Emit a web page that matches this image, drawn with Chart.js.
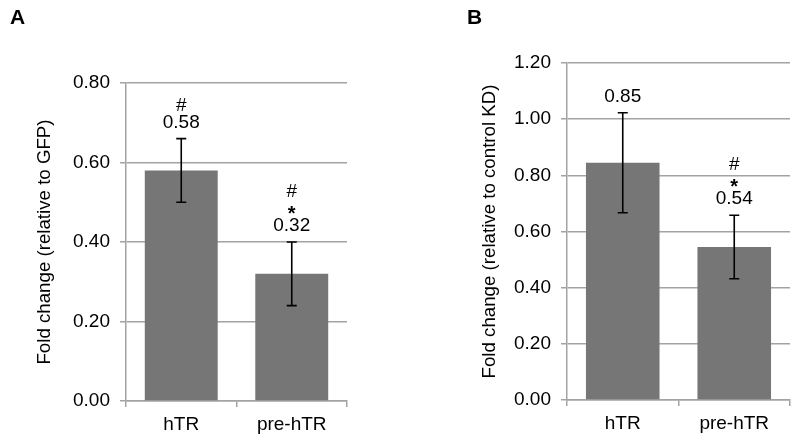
<!DOCTYPE html>
<html>
<head>
<meta charset="utf-8">
<script src="https://cdn.jsdelivr.net/npm/chart.js@4.4.0/dist/chart.umd.min.js"></script>
<style>
  html, body { margin: 0; padding: 0; background: #fff; }
  #wrap { position: relative; width: 800px; height: 443px; }
  .panel { position: absolute; top: 0; width: 400px; height: 443px; }
</style>
</head>
<body>
<div id="wrap">
  <div class="panel" style="left:0"><canvas id="chartA" width="400" height="443"></canvas></div>
  <div class="panel" style="left:400px"><canvas id="chartB" width="400" height="443"></canvas></div>
</div>
<script>
const categories = ['hTR', 'pre-hTR']

// panel A
const valuesA = [0.58, 0.32]
const errorsA = [0.08, 0.08]
const notesA = [['#', '0.58'], ['#', '*', '0.32']]
const ticksA = [0, 0.2, 0.4, 0.6, 0.8]

// panel B
const valuesB = [0.845, 0.545]
const errorsB = [0.178, 0.113]
const notesB = [['0.85'], ['#', '*', '0.54']]
const ticksB = [0, 0.2, 0.4, 0.6, 0.8, 1.0, 1.2]

const FONT = "'Liberation Sans', Arial, sans-serif"
const gridColor = '#a3a3a3'
const barColor = '#767676'

// error bars, the marks above them, and the panel letter
const extras = {
  id: 'extras',
  afterDatasetsDraw(chart, args, opts) {
    const ctx = chart.ctx
    const y = chart.scales.y
    const meta = chart.getDatasetMeta(0)
    ctx.save()
    meta.data.forEach((bar, i) => {
      const v = opts.values[i], e = opts.errors[i]
      const top = y.getPixelForValue(v + e)
      const bottom = y.getPixelForValue(v - e)
      ctx.strokeStyle = '#000'
      ctx.lineWidth = 1.6
      ctx.beginPath()
      ctx.moveTo(bar.x, top); ctx.lineTo(bar.x, bottom)
      ctx.moveTo(bar.x - 5, top); ctx.lineTo(bar.x + 5, top)
      ctx.moveTo(bar.x - 5, bottom); ctx.lineTo(bar.x + 5, bottom)
      ctx.stroke()

      ctx.fillStyle = '#000'
      ctx.textAlign = 'center'
      ctx.textBaseline = 'middle'
      const lines = opts.notes[i]
      let ty = top - 16
      for (let k = lines.length - 1; k >= 0; k--) {
        if (lines[k] === '*') {
          ctx.font = 'bold 20px ' + FONT
          ctx.fillText(lines[k], bar.x, ty + 5)
        } else {
          ctx.font = '19px ' + FONT
          ctx.fillText(lines[k], bar.x, ty)
        }
        ty -= 17
      }
    })
    ctx.font = 'bold 21px ' + FONT
    ctx.textAlign = 'left'
    ctx.textBaseline = 'alphabetic'
    ctx.fillText(opts.letter, opts.letterX, 24)
    ctx.restore()
  }
}

function makeChart(id, cfg) {
  return new Chart(document.getElementById(id), {
    type: 'bar',
    data: {
      labels: categories,
      datasets: [{
        data: cfg.values,
        backgroundColor: barColor,
        barPercentage: 0.66,
        categoryPercentage: 1
      }]
    },
    options: {
      responsive: false,
      animation: false,
      layout: { padding: { top: cfg.top, right: cfg.right, left: 0, bottom: 0 } },
      plugins: {
        legend: { display: false },
        tooltip: { enabled: false },
        extras: { values: cfg.values, errors: cfg.errors, notes: cfg.notes, letter: cfg.letter, letterX: cfg.letterX }
      },
      scales: {
        x: {
          grid: { display: true, drawOnChartArea: false, drawTicks: true, tickLength: 6, color: gridColor, lineWidth: 1.5 },
          border: { display: true, color: gridColor, width: 1.5 },
          ticks: { color: '#000', font: { family: FONT, size: 19 }, padding: 6 },
          afterFit: s => { s.height = 443 - cfg.bottom }
        },
        y: {
          min: 0,
          max: cfg.ticks[cfg.ticks.length - 1],
          afterBuildTicks: s => { s.ticks = cfg.ticks.map(v => ({ value: v })) },
          grid: { color: gridColor, lineWidth: 1.5, tickLength: 6 },
          border: { display: true, color: gridColor, width: 1.5 },
          ticks: { color: '#000', font: { family: FONT, size: 19 }, padding: 10, callback: v => v.toFixed(2) },
          title: {
            display: true,
            text: cfg.title,
            color: '#000',
            font: { family: FONT, size: 18.7 },
            padding: { top: cfg.titlePad, bottom: 0 }
          },
          afterFit: s => { s.width = cfg.left }
        }
      }
    },
    plugins: [extras]
  })
}

makeChart('chartA', {
  values: valuesA, errors: errorsA, notes: notesA, ticks: ticksA,
  title: 'Fold change (relative to GFP)', letter: 'A', letterX: 10,
  left: 126, right: 53, top: 83, bottom: 401, titlePad: 34
})

makeChart('chartB', {
  values: valuesB, errors: errorsB, notes: notesB, ticks: ticksB,
  title: 'Fold change (relative to control KD)', letter: 'B', letterX: 67,
  left: 167, right: 10, top: 63, bottom: 400, titlePad: 79
})
</script>
</body>
</html>
